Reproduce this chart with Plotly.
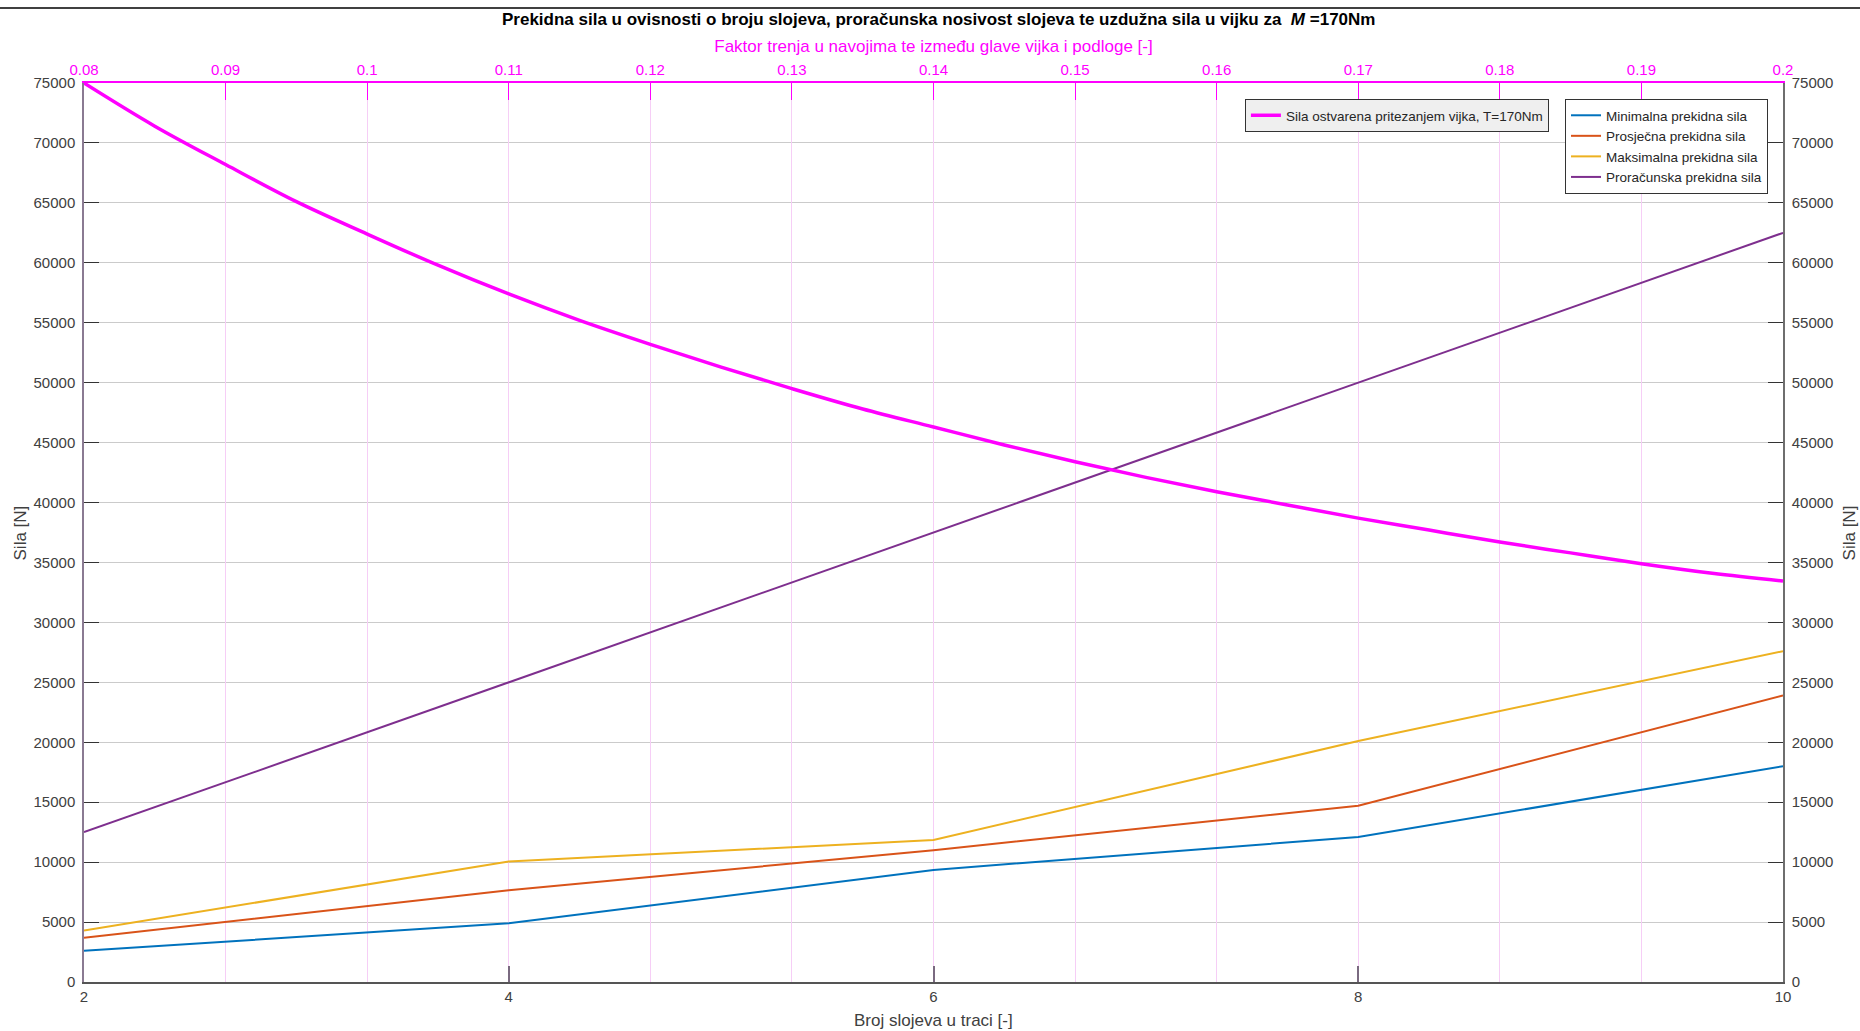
import plotly.graph_objects as go

# Podaci ocitani s dijagrama
broj_slojeva = [2, 4, 6, 8, 10]
min_sila = [2600, 4900, 9350, 12100, 18000]
prosj_sila = [3700, 7650, 11000, 14700, 23900]
maks_sila = [4300, 10050, 11850, 20100, 27600]
proracunska_sila = [12500, 25000, 37500, 50000, 62500]

faktor_trenja = [0.08, 0.085, 0.09, 0.095, 0.10, 0.105, 0.11, 0.115, 0.12, 0.125,
                 0.13, 0.135, 0.14, 0.145, 0.15, 0.155, 0.16, 0.165, 0.17, 0.175,
                 0.18, 0.185, 0.19, 0.195, 0.20]
sila_pritezanja = [75000, 71400, 68200, 65100, 62400, 59800, 57400, 55200, 53200, 51300,
                   49500, 47800, 46300, 44800, 43400, 42100, 40900, 39800, 38700, 37700,
                   36700, 35800, 34900, 34100, 33450]

# tick labels
x_ticks = [2, 4, 6, 8, 10]
trenje_ticks = [0.08, 0.09, 0.10, 0.11, 0.12, 0.13, 0.14, 0.15, 0.16, 0.17, 0.18, 0.19, 0.20]
trenje_labels = ['0.08', '0.09', '0.1', '0.11', '0.12', '0.13', '0.14', '0.15',
                 '0.16', '0.17', '0.18', '0.19', '0.2']
y_ticks = list(range(0, 75001, 5000))

FONT = 'Liberation Sans, Arial, sans-serif'
MAGENTA = '#ff00ff'

fig = go.Figure()

# stvarne prekidne sile
series = [
    ('Minimalna prekidna sila', min_sila, '#0072bd'),
    ('Prosječna prekidna sila', prosj_sila, '#d95319'),
    ('Maksimalna prekidna sila', maks_sila, '#edb120'),
    ('Proračunska prekidna sila', proracunska_sila, '#7e2f8e'),
]
for name, values, color in series:
    fig.add_trace(go.Scatter(
        x=broj_slojeva, y=values, name=name,
        mode='lines', line=dict(color=color, width=2),
        xaxis='x', yaxis='y', legend='legend2',
    ))

# sila pritezanja vs faktor trenja (gornja i desna os)
fig.add_trace(go.Scatter(
    x=faktor_trenja, y=sila_pritezanja,
    name='Sila ostvarena pritezanjem vijka, T=170Nm',
    mode='lines', line=dict(color=MAGENTA, width=3.5, shape='spline'),
    xaxis='x2', yaxis='y2', legend='legend',
))

tick_font = dict(family=FONT, size=15, color='#404040')
title_font = dict(family=FONT, size=17, color='#404040')

fig.update_layout(
    width=1860, height=1031,
    margin=dict(l=84, r=77, t=83, b=49),
    paper_bgcolor='white', plot_bgcolor='white',
    font=dict(family=FONT, size=14, color='#262626'),
    xaxis=dict(
        range=[2, 10], tickvals=x_ticks, automargin=False,
        ticks='inside', ticklen=16, tickcolor='#7a6a80', tickwidth=1.5,
        tickfont=tick_font,
        showline=True, linecolor='#555555', linewidth=1.5,
        showgrid=True, gridcolor='rgba(150,90,170,0.3)', gridwidth=1,
        zeroline=False,
    ),
    xaxis2=dict(
        range=[0.08, 0.2], tickvals=trenje_ticks, ticktext=trenje_labels,
        overlaying='x', side='top', anchor='y2', automargin=False,
        ticks='inside', ticklen=17, tickcolor=MAGENTA, tickwidth=1,
        tickfont=dict(family=FONT, size=15, color=MAGENTA), ticklabelstandoff=0,
        showline=True, linecolor=MAGENTA, linewidth=1.5,
        showgrid=True, gridcolor='#f6cef6', gridwidth=1,
        zeroline=False,
        title=dict(text='Faktor trenja u navojima te između glave vijka i podloge [-]',
                   font=dict(family=FONT, size=17, color=MAGENTA), standoff=4),
    ),
    yaxis=dict(
        range=[0, 75000], tickvals=y_ticks, tickformat='d', automargin=False,
        ticks='inside', ticklen=15, tickcolor='#333333', tickwidth=1,
        tickfont=tick_font, ticklabelstandoff=4,
        showline=True, linecolor='#8a7a92', linewidth=1.5,
        showgrid=True, gridcolor='#cbcbcb', gridwidth=1,
        zeroline=False,
    ),
    yaxis2=dict(
        range=[0, 75000], tickvals=y_ticks, tickformat='d',
        overlaying='y', side='right', anchor='x2', automargin=False,
        ticks='inside', ticklen=15, tickcolor='#333333', tickwidth=1,
        tickfont=tick_font, ticklabelstandoff=4,
        showline=True, linecolor='#6e6e6e', linewidth=1.5,
        showgrid=False, zeroline=False,
    ),
    legend=dict(
        x=0.6833, y=0.9822, xanchor='left', yanchor='top',
        bgcolor='#efefef', bordercolor='#333333', borderwidth=1,
        font=dict(family=FONT, size=13.5, color='#262626'),
        itemwidth=30, tracegroupgap=0,
    ),
    legend2=dict(
        x=0.8717, y=0.9822, xanchor='left', yanchor='top',
        bgcolor='white', bordercolor='#333333', borderwidth=1,
        font=dict(family=FONT, size=13.5, color='#262626'),
        itemwidth=30, tracegroupgap=0,
    ),
    showlegend=True,
)

# naslov
fig.add_annotation(
    text='Prekidna sila u ovisnosti o broju slojeva, proračunska nosivost slojeva te uzdužna sila u vijku za  <i>M</i> =170Nm',
    xref='paper', yref='paper', x=0.5032, y=1.0701,
    xanchor='center', yanchor='middle', showarrow=False,
    font=dict(family=FONT, size=17, color='black', weight='bold'),
)

# naslovi osi (standoff ne radi bez automargin)
fig.add_annotation(
    text='Broj slojeva u traci [-]', xref='paper', yref='paper', x=0.5, y=-0.0423,
    xanchor='center', yanchor='middle', showarrow=False, font=title_font,
)
fig.add_annotation(
    text='Sila [N]', xref='paper', yref='paper', x=-0.0371, y=0.5, textangle=-90,
    xanchor='center', yanchor='middle', showarrow=False, font=title_font,
)
fig.add_annotation(
    text='Sila [N]', xref='paper', yref='paper', x=1.0394, y=0.5, textangle=-90,
    xanchor='center', yanchor='middle', showarrow=False, font=title_font,
)

# linija zaglavlja dokumenta
fig.add_shape(
    type='line', xref='paper', yref='paper',
    x0=-0.06, x1=1.06, y0=1.0834, y1=1.0834,
    line=dict(color='black', width=1.5),
)

# bez margina stranice da figura tocno popuni prozor, bez modebara
fig.write_html('out.html', config={'displayModeBar': False},
               post_script="document.body.style.margin = '0px';")
